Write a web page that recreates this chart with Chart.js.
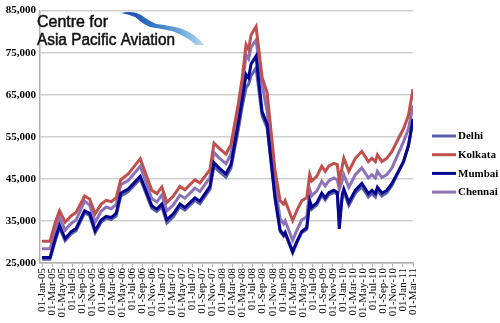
<!DOCTYPE html>
<html><head><meta charset="utf-8">
<script src="https://cdn.jsdelivr.net/npm/chart.js@4/dist/chart.umd.min.js"></script>
<style>html,body{margin:0;padding:0;background:#fff}#wrap{width:500px;height:323px;position:relative}</style>
</head><body><div id="wrap"><canvas id="c" width="500" height="323"></canvas></div>
<script>
const tickLabels = [
  "01-Jan-05","01-Mar-05","01-May-05","01-Jul-05","01-Sep-05","01-Nov-05",
  "01-Jan-06","01-Mar-06","01-May-06","01-Jul-06","01-Sep-06","01-Nov-06",
  "01-Jan-07","01-Mar-07","01-May-07","01-Jul-07","01-Sep-07","01-Nov-07",
  "01-Jan-08","01-Mar-08","01-May-08","01-Jul-08","01-Sep-08","01-Nov-08",
  "01-Jan-09","01-Mar-09","01-May-09","01-Jul-09","01-Sep-09","01-Nov-09",
  "01-Jan-10","01-Mar-10","01-May-10","01-Jul-10","01-Sep-10","01-Nov-10",
  "01-Jan-11","01-Mar-11"
];
// time position of each observation, in months since 01-Jan-05
const months = [0,1.6,2.7,3.5,4.6,5.8,6.8,8.5,9.5,10.6,11.8,12.8,13.8,14.8,15.7,17.2,19.6,21.9,22.9,23.9,24.9,26.2,27.5,28.5,30.5,31.5,33.5,34.3,35.3,36.7,37.7,39.2,39.9,40.7,41.2,41.7,42.7,43.9,44.9,46.5,47.5,48.2,48.5,50.0,50.8,51.8,52.8,53.4,53.8,54.8,55.8,56.5,57.2,58.2,58.9,59.3,59.9,60.2,61.2,62.5,63.8,65.1,65.8,66.5,66.9,67.8,68.8,69.8,71.1,72.1,73.1,74.0];
const kolkata = [30200,30200,34900,37400,34700,36200,37000,40900,40200,36700,39000,39900,39600,40500,44800,46200,49800,42300,41500,43100,39400,40900,43200,42400,44800,44000,47200,53500,52300,50900,53200,63200,68700,76900,75700,79200,81200,69100,65500,46800,39800,39000,39800,35100,37400,39800,40500,46000,44500,45600,48000,46800,48000,48700,48400,44500,48000,49900,46800,49900,51500,49100,49900,49100,50700,49100,49900,51500,54600,56900,60100,66300];
const chennai = [28400,28400,33000,35800,32800,34400,35200,39700,38800,34700,37300,38300,37900,38900,43600,44600,48000,40300,39500,41200,37400,38800,41100,40400,42800,42000,45300,51300,50000,48600,50900,61000,66200,74500,73500,76300,78000,67500,61000,43500,35500,34300,35000,30400,32700,35200,36000,42500,41000,42100,44400,43300,44500,45200,44800,42500,44600,46000,43000,46000,47600,45200,46000,45200,46800,45300,46000,47600,51100,53800,56900,62500];
const mumbai = [26300,26300,31000,33900,30800,32400,33200,37400,36800,32700,35200,36100,35800,36800,41600,42600,45600,38600,37800,39000,35300,36700,39000,38200,40500,39700,43200,48900,47600,46200,48500,58500,63500,69800,69000,72300,74200,61000,58000,40500,32800,31700,32300,27700,30000,32500,33400,39800,38300,39300,41600,40500,41700,42300,41800,33100,41400,42600,39400,42300,43900,41500,42300,41500,43000,41600,42300,43900,46800,49100,53000,59300];
const delhi = [25900,25900,30500,33400,30300,31900,32700,36900,36300,32200,34700,35600,35300,36200,40900,42000,45000,38000,37200,38400,34500,36000,38400,37600,39900,39100,42500,48000,46800,45400,47600,57000,62000,66700,67500,69500,71400,60000,57200,40000,32500,31400,32000,27400,29700,32200,33000,39300,37800,38800,41100,40000,41200,41800,41300,35000,40800,42000,38700,41600,43100,40700,41500,40700,42200,40900,41700,43400,46600,49000,52800,58800];
const cityNames = ["Delhi","Kolkata","Mumbai","Chennai"];
const cityColors = ["#5d60a8","#c0504d","#06068f","#8c72b8"];
const citySeries = [delhi,kolkata,mumbai,chennai];
const drawOrder = [4,2,1,3];

const pts = arr => months.map((m,i)=>({x:m,y:arr[i]}));

const logoPlugin = {
  id:'logo',
  afterDraw(chart){
    const ctx = chart.ctx;
    ctx.save();
    // decorative swoosh of the logo
    const g = ctx.createLinearGradient(120,0,205,0);
    g.addColorStop(0,'#1a46a6');
    g.addColorStop(0.4,'#3575c2');
    g.addColorStop(0.7,'#6aa6d8');
    g.addColorStop(1,'#b8dbf0');
    ctx.fillStyle = g;
    ctx.beginPath();
    ctx.moveTo(121,13);
    ctx.quadraticCurveTo(133,10,141,15);
    ctx.quadraticCurveTo(149,21,156,24);
    ctx.quadraticCurveTo(170,25.5,181,28.5);
    ctx.quadraticCurveTo(196,34,204,45);
    ctx.lineTo(196,45);
    ctx.quadraticCurveTo(186,36,172,31);
    ctx.quadraticCurveTo(158,28,150,27);
    ctx.quadraticCurveTo(141,23,136,17.5);
    ctx.quadraticCurveTo(129,14,121,13);
    ctx.closePath();
    ctx.fill();
    ctx.fillStyle = '#111';
    ctx.strokeStyle = '#111';
    ctx.lineWidth = 0.5;
    ctx.font = '16px "Liberation Sans", Arial, sans-serif';
    ctx.textBaseline = 'alphabetic';
    ctx.fillText('Centre for', 37, 27, 71);
    ctx.strokeText('Centre for', 37, 27, 71);
    ctx.fillText('Asia Pacific Aviation', 37, 45, 138);
    ctx.strokeText('Asia Pacific Aviation', 37, 45, 138);
    ctx.restore();
  }
};
const legendPlugin = {
  id:'customLegend',
  afterDraw(chart){
    const ctx = chart.ctx;
    ctx.save();
    chart.data.datasets.forEach((ds,i)=>{
      const y = 136 + i*18.7;
      ctx.strokeStyle = ds.borderColor;
      ctx.lineWidth = 3;
      ctx.beginPath(); ctx.moveTo(432,y); ctx.lineTo(456,y); ctx.stroke();
      ctx.fillStyle = '#000';
      ctx.font = 'bold 11px "Liberation Serif", serif';
      ctx.textBaseline = 'middle';
      ctx.fillText(ds.label, 458, y+0.5);
    });
    ctx.restore();
  }
};

new Chart(document.getElementById('c'), {
  type:'line',
  data:{
    datasets: cityNames.map((n,i)=>({
      label:n, data:pts(citySeries[i]), borderColor:cityColors[i], backgroundColor:cityColors[i],
      borderWidth:3, pointRadius:0, tension:0, order:drawOrder[i], fill:false
    }))
  },
  options:{
    responsive:false, animation:false, devicePixelRatio:1,
    layout:{padding:{top:7,right:87,left:0,bottom:0}},
    plugins:{legend:{display:false}, tooltip:{enabled:false}},
    scales:{
      x:{
        type:'linear', min:-0.4, max:74,
        afterBuildTicks: s => { s.ticks = tickLabels.map((_,i)=>({value:i*2})); },
        afterFit: s => { s.height = 60; },
        ticks:{autoSkip:false, maxRotation:90, minRotation:90, padding:1, color:'#000',
          font:{family:'"Liberation Serif", serif', size:11},
          callback:(v,i)=>tickLabels[i]},
        grid:{drawOnChartArea:false, drawTicks:true, tickLength:4, color:'#b0b0b0'},
        border:{color:'#b0b0b0', width:1.5}
      },
      y:{
        min:25000, max:85000,
        afterFit: s => { s.width = 40; },
        ticks:{stepSize:10000, padding:4, color:'#000', font:{family:'"Liberation Serif", serif', size:11, weight:'bold'}},
        grid:{color:'#cfcfcf', lineWidth:1.5, drawTicks:false},
        border:{color:'#b0b0b0', width:1.5}
      }
    }
  },
  plugins:[logoPlugin, legendPlugin]
});
</script></body></html>
